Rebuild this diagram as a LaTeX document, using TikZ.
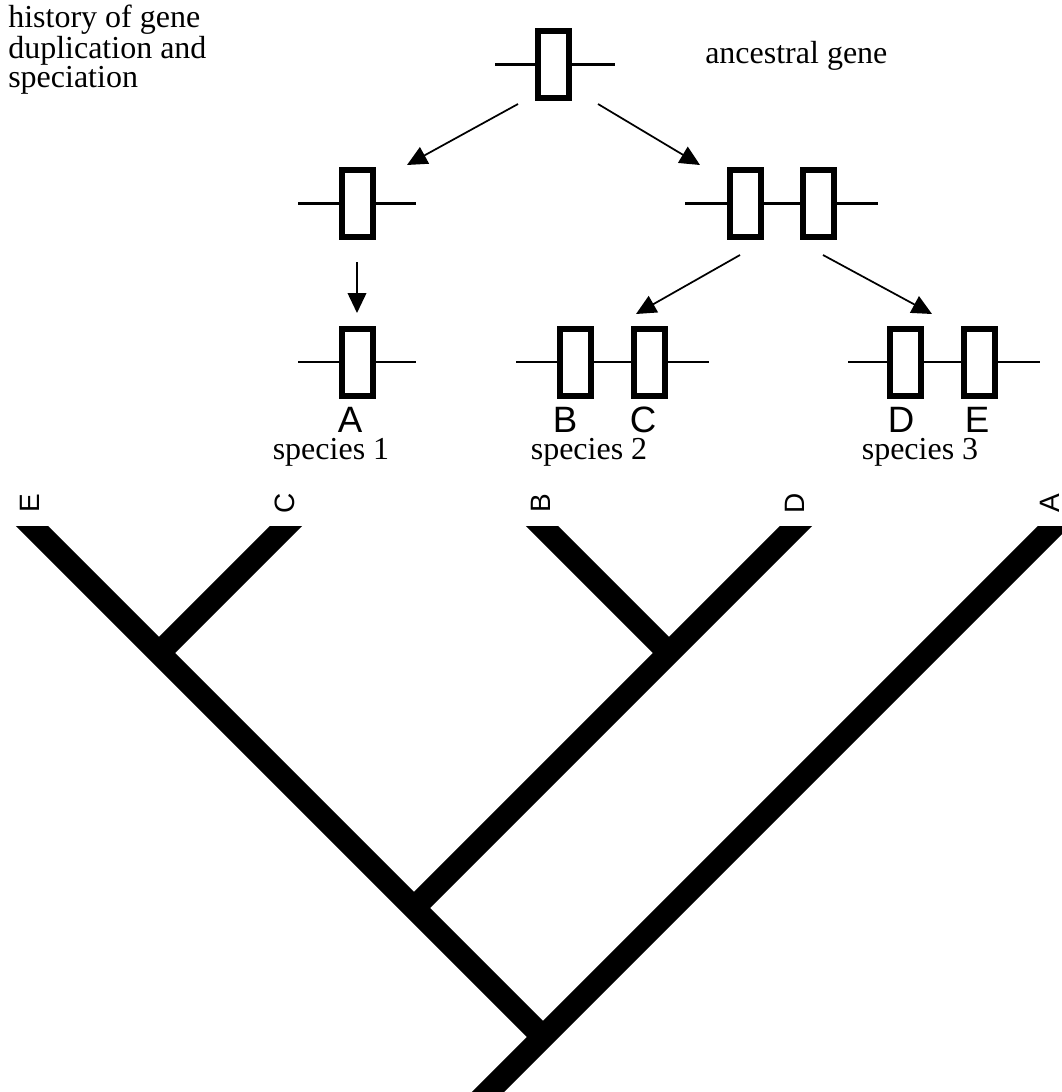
\documentclass[tikz,border=0pt]{standalone}
\usepackage{fontspec}
\setmainfont{Liberation Serif}
\newfontfamily\labelsans{Liberation Sans}
\usetikzlibrary{arrows.meta}

\begin{document}
\begin{tikzpicture}[x=0.75pt,y=-0.75pt,
  chrom/.style={line width=1.65pt},
  genebox/.style={draw, line width=4.5pt, fill=white, inner sep=0pt,
    minimum width=23.25pt, minimum height=50.25pt},
  descent/.style={line width=1.3pt, -{Triangle[length=15pt,width=14pt]}},
  caption/.style={inner sep=0pt, font=\fontsize{24}{20.5}\selectfont},
  genename/.style={inner sep=0pt, anchor=base, font=\labelsans\fontsize{27.5}{30}\selectfont},
  leafname/.style={inner sep=0pt, rotate=90, font=\labelsans\fontsize{21}{24}\selectfont},
  branch/.style={line width=17pt, line cap=butt}]

\useasboundingbox (0,0) rectangle (1062,1092);

% ---------- gene history ----------
\node[caption, anchor=north west, align=left] (title) at (8,5)
  {history of gene\\duplication and\\speciation};
\node[caption, anchor=base west] (anc) at (705,63) {ancestral gene};

% ancestral gene
\coordinate (c0w) at (495,64.5);  \coordinate (c0e) at (615,64.5);
\draw[chrom] (c0w) -- (c0e);
\node[genebox] (g0) at (553.5,64.5) {};

% speciation branch: one copy
\coordinate (c1w) at (298,203.5); \coordinate (c1e) at (416,203.5);
\draw[chrom] (c1w) -- (c1e);
\node[genebox] (g1) at (357,203.5) {};

% duplication branch: two copies
\coordinate (c2w) at (685,203.5); \coordinate (c2e) at (878,203.5);
\draw[chrom] (c2w) -- (c2e);
\node[genebox] (g2a) at (745.5,203.5) {};
\node[genebox] (g2b) at (818.5,203.5) {};

% species 1
\coordinate (s1w) at (298,362); \coordinate (s1e) at (416,362);
\draw[chrom] (s1w) -- (s1e);
\node[genebox] (gA) at (357,362) {};

% species 2
\coordinate (s2w) at (516,362); \coordinate (s2e) at (709,362);
\draw[chrom] (s2w) -- (s2e);
\node[genebox] (gB) at (575,362) {};
\node[genebox] (gC) at (649,362) {};

% species 3
\coordinate (s3w) at (848,362); \coordinate (s3e) at (1040,362);
\draw[chrom] (s3w) -- (s3e);
\node[genebox] (gD) at (905,362) {};
\node[genebox] (gE) at (979,362) {};

% descent arrows
\coordinate (a0l) at (518,104);  \coordinate (t0l) at (407,165);
\coordinate (a0r) at (598,104);  \coordinate (t0r) at (700,165);
\coordinate (a1)  at (357,262);  \coordinate (t1)  at (357,313);
\coordinate (a2l) at (740,255);  \coordinate (t2l) at (636,314);
\coordinate (a2r) at (823,255);  \coordinate (t2r) at (932,314);
\draw[descent] (a0l) -- (t0l);
\draw[descent] (a0r) -- (t0r);
\draw[descent] (a1) -- (t1);
\draw[descent] (a2l) -- (t2l);
\draw[descent] (a2r) -- (t2r);

% gene names and species
\node[genename] (nA) at (350,432) {A};
\node[genename] (nB) at (565,432) {B};
\node[genename] (nC) at (643,432) {C};
\node[genename] (nD) at (901,432) {D};
\node[genename] (nE) at (977,432) {E};
\node[caption, anchor=base] (sp1) at (331,459) {species 1};
\node[caption, anchor=base] (sp2) at (589,459) {species 2};
\node[caption, anchor=base] (sp3) at (920,459) {species 3};

% ---------- gene tree ----------
\node[leafname] (lE) at (30,503) {E};
\node[leafname] (lC) at (285,503) {C};
\node[leafname] (lB) at (541,503) {B};
\node[leafname] (lD) at (795,503) {D};
\node[leafname] (lA) at (1050,503) {A};

% leaf tips (extended past the cut line), internal nodes, root
\coordinate (tE) at (22,516);
\coordinate (tC) at (296,516);
\coordinate (tB) at (532,516);
\coordinate (tD) at (806,516);
\coordinate (tA) at (1064,516);
\coordinate (jEC) at (159,653);
\coordinate (jBD) at (669,653);
\coordinate (jED) at (414,908);
\coordinate (jR)  at (543,1037);
\coordinate (root) at (478,1102);

\begin{scope}
  \clip (0,526) rectangle (1062,1092);
  \draw[branch] (root) -- (tA);
  \draw[branch] (tE) -- (jR);
  \draw[branch] (tC) -- (jEC);
  \draw[branch] (tD) -- (jED);
  \draw[branch] (tB) -- (jBD);
\end{scope}
\end{tikzpicture}
\end{document}
